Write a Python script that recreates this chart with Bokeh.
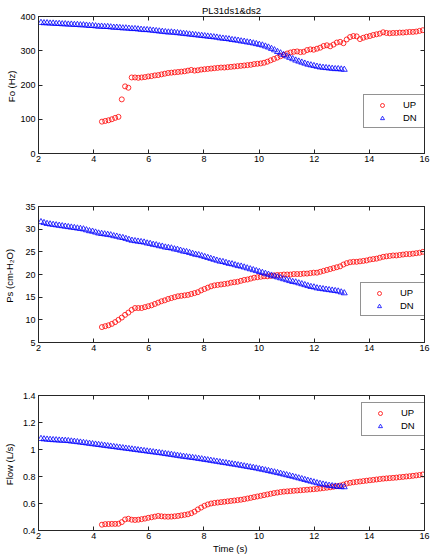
from bokeh.plotting import figure
from bokeh.models import Range1d, FixedTicker, LinearAxis, Legend, LegendItem
from bokeh.layouts import column
from bokeh.embed import file_html
from bokeh.resources import INLINE

# ---------------- data ----------------
title_text = "PL31ds1&ds2"
x_label = "Time  (s)"
fo_label = "Fo  (Hz)"
ps_label = "Ps  (cm-H\u2082O)"
flow_label = "Flow  (L/s)"
series_names = ["UP", "DN"]

x_ticks = [2, 4, 6, 8, 10, 12, 14, 16]
x_tick_labels = ["2", "4", "6", "8", "10", "12", "14", "16"]
fo_ticks = [0, 100, 200, 300, 400]
fo_tick_labels = ["0", "100", "200", "300", "400"]
ps_ticks = [5, 10, 15, 20, 25, 30, 35]
ps_tick_labels = ["5", "10", "15", "20", "25", "30", "35"]
flow_ticks = [0.4, 0.6, 0.8, 1.0, 1.2, 1.4]
flow_tick_labels = ["0.4", "0.6", "0.8", "1", "1.2", "1.4"]

t_dn = [2.09, 2.20, 2.31, 2.42, 2.53, 2.64, 2.75, 2.86, 2.97, 3.08,
        3.19, 3.30, 3.41, 3.52, 3.63, 3.74, 3.85, 3.96, 4.07, 4.18,
        4.29, 4.40, 4.51, 4.62, 4.73, 4.84, 4.95, 5.06, 5.17, 5.28,
        5.39, 5.50, 5.61, 5.72, 5.83, 5.94, 6.05, 6.16, 6.27, 6.38,
        6.49, 6.60, 6.71, 6.82, 6.93, 7.04, 7.15, 7.26, 7.37, 7.48,
        7.59, 7.70, 7.81, 7.92, 8.03, 8.14, 8.25, 8.36, 8.47, 8.58,
        8.69, 8.80, 8.91, 9.02, 9.13, 9.24, 9.35, 9.46, 9.57, 9.68,
        9.79, 9.90, 10.01, 10.12, 10.23, 10.34, 10.45, 10.56, 10.67, 10.78,
        10.89, 11.00, 11.11, 11.22, 11.33, 11.44, 11.55, 11.66, 11.77, 11.88,
        11.99, 12.10, 12.21, 12.32, 12.43, 12.54, 12.65, 12.76, 12.87, 12.98,
        13.09]

t_up = [4.30, 4.42, 4.54, 4.66, 4.78, 4.90, 5.02, 5.14, 5.26, 5.38,
        5.50, 5.62, 5.74, 5.86, 5.98, 6.10, 6.22, 6.34, 6.46, 6.58,
        6.70, 6.82, 6.94, 7.06, 7.18, 7.30, 7.42, 7.54, 7.66, 7.78,
        7.90, 8.02, 8.14, 8.26, 8.38, 8.50, 8.62, 8.74, 8.86, 8.98,
        9.10, 9.22, 9.34, 9.46, 9.58, 9.70, 9.82, 9.94, 10.06, 10.18,
        10.30, 10.42, 10.54, 10.66, 10.78, 10.90, 11.02, 11.14, 11.26, 11.38,
        11.50, 11.62, 11.74, 11.86, 11.98, 12.10, 12.22, 12.34, 12.46, 12.58,
        12.70, 12.82, 12.94, 13.06, 13.18, 13.30, 13.42, 13.54, 13.66, 13.78,
        13.90, 14.02, 14.14, 14.26, 14.38, 14.50, 14.62, 14.74, 14.86, 14.98,
        15.10, 15.22, 15.34, 15.46, 15.58, 15.70, 15.82, 15.94]

fo_dn = [382, 381, 381, 380, 380, 379, 379, 378, 378, 377,
         377, 376, 376, 375, 375, 374, 373, 373, 372, 371,
         371, 370, 370, 369, 368, 368, 367, 366, 366, 365,
         364, 364, 363, 362, 361, 361, 360, 359, 358, 357,
         356, 355, 354, 354, 353, 352, 351, 350, 349, 348,
         347, 346, 345, 344, 343, 342, 341, 340, 339, 337,
         336, 335, 334, 332, 331, 330, 328, 327, 325, 324,
         322, 320, 318, 316, 313, 310, 306, 302, 297, 293,
         288, 284, 280, 276, 272, 269, 266, 263, 260, 258,
         256, 254, 252, 251, 250, 249, 248, 247, 247, 246,
         245]

fo_up = [93, 95, 97, 100, 104, 107, 158, 196, 192, 222,
         222, 221, 222, 223, 225, 226, 228, 229, 231, 233,
         235, 236, 237, 238, 239, 240, 242, 244, 242, 243,
         245, 246, 247, 248, 249, 250, 251, 251, 252, 253,
         254, 255, 256, 257, 258, 259, 261, 262, 263, 265,
         268, 272, 276, 280, 284, 288, 292, 295, 297, 298,
         296, 297, 302, 304, 303, 306, 309, 314, 316, 313,
         318, 324, 326, 322, 333, 340, 343, 342, 334, 338,
         341, 343, 346, 348, 350, 354, 352, 351, 352, 352,
         353, 353, 354, 355, 355, 356, 358, 360]

ps_dn = [31.6, 31.4, 31.2, 31.1, 31.0, 30.9, 30.8, 30.7, 30.6, 30.5,
         30.4, 30.3, 30.2, 30.1, 30.0, 29.8, 29.6, 29.5, 29.3, 29.1,
         29.0, 28.9, 28.8, 28.7, 28.5, 28.4, 28.2, 28.1, 27.9, 27.7,
         27.5, 27.4, 27.3, 27.2, 27.1, 26.9, 26.8, 26.6, 26.5, 26.3,
         26.2, 26.0, 25.9, 25.8, 25.6, 25.5, 25.3, 25.1, 25.0, 24.8,
         24.6, 24.4, 24.3, 24.1, 23.9, 23.7, 23.5, 23.3, 23.1, 22.9,
         22.8, 22.6, 22.4, 22.3, 22.1, 21.9, 21.8, 21.6, 21.4, 21.2,
         21.0, 20.8, 20.6, 20.4, 20.2, 20.0, 19.8, 19.6, 19.4, 19.2,
         19.0, 18.8, 18.6, 18.4, 18.3, 18.1, 17.9, 17.7, 17.5, 17.3,
         17.2, 17.0, 16.9, 16.8, 16.7, 16.6, 16.5, 16.4, 16.3, 16.1,
         15.9]

ps_up = [8.4, 8.6, 8.8, 9.1, 9.5, 10.0, 10.5, 11.1, 11.6, 12.2,
         12.6, 12.6, 12.6, 12.8, 13.0, 13.2, 13.5, 13.8, 14.1, 14.3,
         14.6, 14.8, 15.0, 15.2, 15.3, 15.4, 15.5, 15.7, 15.9, 16.1,
         16.5, 16.8, 17.1, 17.4, 17.6, 17.7, 17.8, 17.9, 18.0, 18.2,
         18.3, 18.4, 18.6, 18.8, 18.9, 19.1, 19.3, 19.4, 19.5, 19.6,
         19.6, 19.7, 19.8, 19.9, 19.9, 20.0, 20.0, 20.0, 20.1, 20.1,
         20.1, 20.2, 20.2, 20.3, 20.4, 20.4, 20.6, 20.8, 21.0, 21.2,
         21.4, 21.6, 21.8, 22.2, 22.5, 22.7, 22.8, 22.8, 22.9, 23.0,
         23.1, 23.3, 23.4, 23.5, 23.7, 23.9, 24.0, 24.1, 24.2, 24.2,
         24.3, 24.4, 24.5, 24.5, 24.6, 24.7, 24.8, 25.0]

flow_dn = [1.080, 1.077, 1.075, 1.073, 1.071, 1.070, 1.068, 1.067, 1.066, 1.064,
           1.061, 1.059, 1.056, 1.053, 1.050, 1.047, 1.044, 1.041, 1.038, 1.035,
           1.032, 1.029, 1.026, 1.023, 1.020, 1.017, 1.014, 1.011, 1.008, 1.005,
           1.002, 0.999, 0.996, 0.993, 0.990, 0.987, 0.984, 0.981, 0.978, 0.975,
           0.972, 0.968, 0.965, 0.962, 0.958, 0.955, 0.951, 0.948, 0.945, 0.942,
           0.939, 0.936, 0.932, 0.929, 0.925, 0.922, 0.918, 0.914, 0.911, 0.907,
           0.903, 0.900, 0.896, 0.892, 0.889, 0.885, 0.881, 0.877, 0.873, 0.869,
           0.865, 0.861, 0.856, 0.852, 0.847, 0.842, 0.837, 0.832, 0.827, 0.822,
           0.816, 0.811, 0.805, 0.800, 0.794, 0.788, 0.782, 0.776, 0.770, 0.764,
           0.758, 0.752, 0.747, 0.742, 0.737, 0.733, 0.730, 0.727, 0.725, 0.723,
           0.722]

flow_up = [0.443, 0.447, 0.448, 0.449, 0.449, 0.450, 0.462, 0.482, 0.487, 0.480,
           0.478, 0.480, 0.484, 0.488, 0.494, 0.498, 0.503, 0.508, 0.505, 0.503,
           0.502, 0.503, 0.505, 0.508, 0.512, 0.516, 0.520, 0.528, 0.540, 0.556,
           0.570, 0.583, 0.593, 0.600, 0.604, 0.607, 0.610, 0.613, 0.616, 0.619,
           0.622, 0.625, 0.628, 0.632, 0.637, 0.642, 0.647, 0.652, 0.657, 0.662,
           0.667, 0.672, 0.677, 0.681, 0.685, 0.688, 0.690, 0.692, 0.694, 0.696,
           0.698, 0.700, 0.702, 0.704, 0.706, 0.708, 0.711, 0.714, 0.717, 0.720,
           0.724, 0.728, 0.733, 0.740, 0.748, 0.753, 0.757, 0.760, 0.763, 0.766,
           0.769, 0.772, 0.775, 0.778, 0.781, 0.784, 0.786, 0.788, 0.790, 0.792,
           0.795, 0.797, 0.800, 0.802, 0.805, 0.808, 0.811, 0.815]

# ---------------- styling ----------------
FONT = "Liberation Sans"
AX = "#262626"
UP_COLOR = "#ff0000"
DN_COLOR = "#0000ff"
X_LO, X_HI = 2, 16
WIDTH = 430


def style_axis(ax, standoff):
    ax.major_tick_in = 4
    ax.major_tick_out = 0
    ax.minor_tick_line_color = None
    ax.axis_line_color = AX
    ax.major_tick_line_color = AX
    ax.major_label_text_font = FONT
    ax.major_label_text_font_size = "9px"
    ax.major_label_text_color = "black"
    ax.major_label_standoff = standoff
    ax.axis_label_text_font = FONT
    ax.axis_label_text_font_size = "9.5px"
    ax.axis_label_text_font_style = "normal"
    ax.axis_label_text_color = "black"


def make_panel(y_ticks, y_tick_labels, up_vals, dn_vals, ylabel, ylabel_standoff,
               height, top, bottom, legend_loc):
    p = figure(width=WIDTH, height=height, x_range=Range1d(X_LO, X_HI),
               y_range=Range1d(y_ticks[0], y_ticks[-1]), output_backend="svg",
               toolbar_location=None, min_border_left=33, min_border_right=6,
               min_border_top=top, min_border_bottom=bottom)
    p.grid.visible = False
    p.outline_line_color = AX
    p.outline_line_width = 1
    p.background_fill_color = "white"
    p.border_fill_color = "white"

    xa = p.below[0]
    xa.ticker = FixedTicker(ticks=x_ticks, minor_ticks=[])
    xa.major_label_overrides = dict(zip(x_ticks, x_tick_labels))
    style_axis(xa, 2)
    ya = p.left[0]
    ya.ticker = FixedTicker(ticks=y_ticks, minor_ticks=[])
    ya.major_label_overrides = dict(zip(y_ticks, y_tick_labels))
    style_axis(ya, 3)
    ya.axis_label = ylabel
    ya.axis_label_standoff = ylabel_standoff

    ta = LinearAxis(ticker=FixedTicker(ticks=x_ticks, minor_ticks=[]),
                    major_label_overrides={k: "" for k in x_ticks})
    style_axis(ta, 0)
    ta.major_label_text_font_size = "1px"
    p.add_layout(ta, "above")
    ra = LinearAxis(ticker=FixedTicker(ticks=y_ticks, minor_ticks=[]),
                    major_label_overrides={k: "" for k in y_ticks})
    style_axis(ra, 0)
    ra.major_label_text_font_size = "1px"
    p.add_layout(ra, "right")

    r_up = p.scatter(t_up, up_vals, marker="circle", size=5, fill_color=None,
                     line_color=UP_COLOR, line_width=0.8)
    r_dn = p.scatter(t_dn, dn_vals, marker="triangle", size=6, fill_color=None,
                     line_color=DN_COLOR, line_width=0.8)

    legend = Legend(items=[LegendItem(label=series_names[0], renderers=[r_up]),
                           LegendItem(label=series_names[1], renderers=[r_dn])],
                    location=legend_loc, padding=4, spacing=2, margin=0,
                    glyph_width=28, glyph_height=10, label_height=10,
                    label_standoff=7, label_text_font=FONT,
                    label_text_font_size="9.5px", label_text_color="black",
                    border_line_color=AX, border_line_width=1,
                    background_fill_color="white", background_fill_alpha=1.0)
    p.add_layout(legend)
    return p


p1 = make_panel(fo_ticks, fo_tick_labels, fo_up, fo_dn, fo_label, 0,
                202, 16, 49, (325, 25))
p1.title.text = title_text
p1.title.align = "center"
p1.title.text_font = FONT
p1.title.text_font_size = "9.5px"
p1.title.text_font_style = "normal"
p1.title.text_color = "black"
p1.title.standoff = 2
p1.title.offset = 0

p2 = make_panel(ps_ticks, ps_tick_labels, ps_up, ps_dn, ps_label, 7,
                189, 4, 49, (322, 26))

p3 = make_panel(flow_ticks, flow_tick_labels, flow_up, flow_dn, flow_label, 5,
                165, 4, 26, (323, 94))
p3.below[0].axis_label = x_label
p3.below[0].axis_label_standoff = 1

layout = column(p1, p2, p3, spacing=0)
open("out.html", "w").write(file_html(layout, INLINE, title=title_text))
